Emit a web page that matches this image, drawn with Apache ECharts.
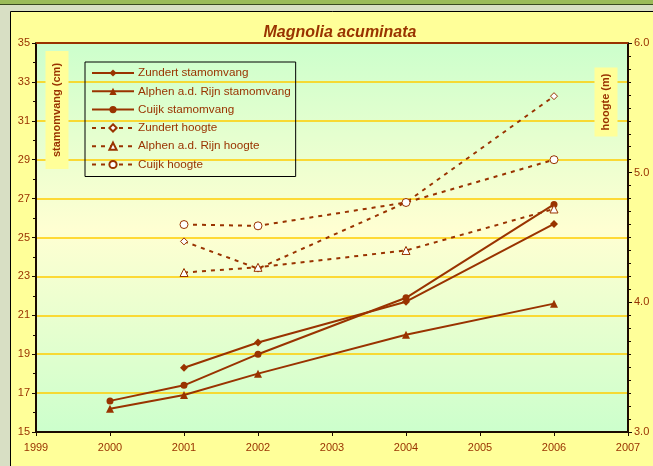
<!DOCTYPE html>
<html>
<head>
<meta charset="utf-8">
<script src="https://cdn.jsdelivr.net/npm/echarts@6/dist/echarts.min.js"></script>
<style>
  html, body { margin: 0; padding: 0; background: #d8dfc4; }
  #chart { width: 653px; height: 466px; }
</style>
</head>
<body>
<div id="chart"></div>
<script>
const years = [2000, 2001, 2002, 2004, 2006];

// stamomvang (cm), left axis
const zundertStam = [null, 18.3, 19.6, 21.7, 25.7];
const alphenStam = [16.2, 16.9, 18.0, 20.0, 21.6];
const cuijkStam = [16.6, 17.4, 19.0, 21.9, 26.7];

// hoogte (m), right axis
const zundertHoogte = [null, 4.47, 4.26, 4.77, 5.59];
const alphenHoogte = [null, 4.23, 4.27, 4.4, 4.72];
const cuijkHoogte = [null, 4.6, 4.59, 4.77, 5.1];

const red = "#993300";

const pairs = (vals) => years.map((y, i) => [y, vals[i]]).filter((p) => p[1] != null);

const solid = (name, vals, symbol, size) => ({
  name: name,
  type: "line",
  yAxisIndex: 0,
  data: pairs(vals),
  symbol: symbol,
  symbolSize: size,
  lineStyle: { color: red, width: 2 },
  itemStyle: { color: red },
  emphasis: { disabled: true },
  animation: false,
});

const dashed = (name, vals, symbol, size) => ({
  name: name,
  type: "line",
  yAxisIndex: 1,
  data: pairs(vals),
  symbol: symbol,
  symbolSize: size,
  lineStyle: { color: red, width: 2, type: [4, 5] },
  itemStyle: { color: "#ffffff", borderColor: red, borderWidth: 1 },
  emphasis: { disabled: true },
  animation: false,
});

const chart = echarts.init(document.getElementById("chart"));

const option = {
  backgroundColor: "#d8dfc4",
  textStyle: { fontFamily: "Liberation Sans, Arial, sans-serif" },
  graphic: [
    { type: "rect", z: -10, shape: { x: 0, y: 0, width: 653, height: 4 }, style: { fill: "#9bbb59" } },
    { type: "rect", z: -10, shape: { x: 0, y: 4, width: 653, height: 1 }, style: { fill: "#3a4a20" } },
    {
      type: "rect",
      z: -10,
      shape: { x: 10.5, y: 11.5, width: 660, height: 470 },
      style: { fill: "#ffff99", stroke: "#000", lineWidth: 1 },
    },
    {
      type: "text",
      z: 10,
      x: 57,
      y: 110,
      rotation: Math.PI / 2,
      style: {
        text: "stamomvang (cm)",
        fill: red,
        font: "bold 11px Liberation Sans, Arial, sans-serif",
        align: "center",
        verticalAlign: "middle",
        backgroundColor: "#ffff99",
        padding: [6, 12, 6, 12],
      },
    },
    {
      type: "text",
      z: 10,
      x: 606,
      y: 102,
      rotation: Math.PI / 2,
      style: {
        text: "hoogte (m)",
        fill: red,
        font: "bold 11px Liberation Sans, Arial, sans-serif",
        align: "center",
        verticalAlign: "middle",
        backgroundColor: "#ffff99",
        padding: [6, 6, 6, 6],
      },
    },
  ],
  title: {
    text: "Magnolia acuminata",
    left: 335,
    textAlign: "center",
    top: 20,
    textStyle: {
      color: red,
      fontSize: 16,
      fontWeight: "bold",
      fontStyle: "italic",
      fontFamily: "Liberation Sans, Arial, sans-serif",
    },
  },
  legend: {
    orient: "vertical",
    left: 85,
    top: 62,
    itemWidth: 42,
    itemHeight: 9,
    itemGap: 6.3,
    padding: [5, 5, 6, 6],
    borderColor: "#000",
    borderWidth: 1,
    selectedMode: false,
    textStyle: { color: red, fontSize: 11.7, padding: [0, 0, 0, -1] },
    data: [
      "Zundert stamomvang",
      "Alphen a.d. Rijn stamomvang",
      "Cuijk stamomvang",
      "Zundert hoogte",
      "Alphen a.d. Rijn hoogte",
      "Cuijk hoogte",
    ],
  },
  grid: {
    left: 36,
    right: 25,
    top: 43,
    bottom: 34,
    show: true,
    borderWidth: 0,
    backgroundColor: {
      type: "linear",
      x: 0,
      y: 0,
      x2: 0,
      y2: 1,
      colorStops: [
        { offset: 0, color: "#ccffcc" },
        { offset: 0.48, color: "#ffffd2" },
        { offset: 1, color: "#ccffcc" },
      ],
    },
  },
  xAxis: {
    type: "value",
    min: 1999,
    max: 2007,
    interval: 1,
    axisLine: { lineStyle: { color: "#1a0a00", width: 2 } },
    axisTick: { show: true, length: 4, lineStyle: { color: "#1a0a00" } },
    axisLabel: { color: red, fontSize: 11, margin: 10, formatter: (v) => String(v) },
    splitLine: { show: false },
  },
  yAxis: [
    {
      type: "value",
      min: 15,
      max: 35,
      interval: 2,
      axisLine: { show: true, lineStyle: { color: "#1a0a00", width: 2 } },
      axisTick: { show: true, length: 4, lineStyle: { color: "#1a0a00" } },
      minorTick: { show: true, splitNumber: 2, length: 3, lineStyle: { color: "#1a0a00" } },
      axisLabel: { color: red, fontSize: 11, margin: 6 },
      splitLine: { show: true, lineStyle: { color: "#ffcc00", width: 1.5 } },
    },
    {
      type: "value",
      min: 3,
      max: 6,
      interval: 1,
      position: "right",
      axisLine: { show: true, lineStyle: { color: "#1a0a00", width: 2 } },
      axisTick: { show: true, length: 4, lineStyle: { color: "#1a0a00" } },
      minorTick: { show: true, splitNumber: 10, length: 3, lineStyle: { color: "#1a0a00" } },
      axisLabel: { color: red, fontSize: 11, margin: 6, formatter: (v) => v.toFixed(1) },
      splitLine: { show: false },
    },
  ],
  series: [
    solid("Zundert stamomvang", zundertStam, "diamond", 8),
    solid("Alphen a.d. Rijn stamomvang", alphenStam, "triangle", 8),
    solid("Cuijk stamomvang", cuijkStam, "circle", 7),
    dashed("Zundert hoogte", zundertHoogte, "diamond", 7),
    dashed("Alphen a.d. Rijn hoogte", alphenHoogte, "triangle", 8),
    dashed("Cuijk hoogte", cuijkHoogte, "circle", 8),
    {
      // brown top border of the plot area
      type: "line",
      yAxisIndex: 0,
      data: [[1999, 35], [2007, 35]],
      symbol: "none",
      silent: true,
      lineStyle: { color: red, width: 2 },
      animation: false,
      z: 1,
    },
  ],
};

chart.setOption(option);
</script>
</body>
</html>
